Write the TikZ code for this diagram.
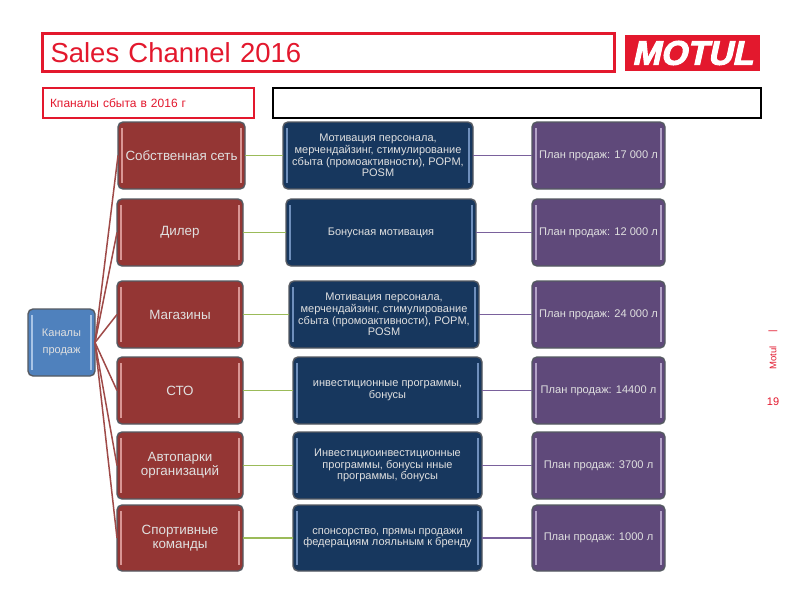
\documentclass[tikz,border=0pt]{standalone}
\usepackage{fontspec}
\setmainfont{Liberation Sans}
\newfontfamily\logofont[FakeSlant=0.22,FakeBold=3]{Liberation Sans Bold}
\definecolor{motred}{HTML}{E3182D}
\definecolor{redfill}{HTML}{943634}
\definecolor{redbar}{HTML}{D99694}
\definecolor{bluefill}{HTML}{17375E}
\definecolor{bluebar}{HTML}{6F8FBC}
\definecolor{purpfill}{HTML}{5F497A}
\definecolor{purpbar}{HTML}{B3A2C7}
\definecolor{srcfill}{HTML}{4F81BD}
\definecolor{srcbar}{HTML}{A8C4E6}
\definecolor{boxline}{HTML}{555A62}
\definecolor{greenline}{HTML}{9BBB59}
\definecolor{purpline}{HTML}{7A619C}
\tikzset{
  chanbox/.style={rectangle,rounded corners=5pt,draw=boxline,line width=1.4pt,inner sep=0pt,outer sep=0pt,
     align=center,text=white!88!black},
  redbox/.style={chanbox,fill=redfill,font=\fontsize{13.4}{14}\selectfont},
  bluebox/.style={chanbox,fill=bluefill,font=\fontsize{11}{11.6}\selectfont},
  purpbox/.style={chanbox,fill=purpfill,font=\fontsize{11.1}{12}\selectfont},
  srcbox/.style={chanbox,fill=srcfill,font=\fontsize{11}{16.5}\selectfont},
  redbar/.style={draw=redbar,line width=1.5pt},
  bluebar/.style={draw=bluebar,line width=1.5pt},
  purpbar/.style={draw=purpbar,line width=1.5pt},
  srcbar/.style={draw=srcbar,line width=1.8pt},
  framebox/.style={rectangle,fill=white,inner sep=0pt,outer sep=0pt},
  redlink/.style={draw=redfill!90!white,line width=1.5pt},
  greenlink/.style={draw=greenline,line width=1.7pt},
  purplink/.style={draw=purpline,line width=1.7pt},
}
\newcommand{\chbox}[7]{%
  \node[#6box,minimum width={(#4-#2)*1pt},minimum height={(#5-#3)*1pt}] (#1) at ({(#2+#4)/2},{(#3+#5)/2}) {#7};
  \draw[#6bar] ({#2+4},{#3+6}) -- ({#2+4},{#5-6});
  \draw[#6bar] ({#4-4},{#3+6}) -- ({#4-4},{#5-6});
}
\begin{document}
\begin{tikzpicture}[x=1pt,y=-1pt]
\useasboundingbox (0,0) rectangle (800,600);
\fill[white] (0,0) rectangle (800,600);
% header
\node[framebox,draw=motred,line width=2.2pt,minimum width=572pt,minimum height=38pt,anchor=west,
      text=motred,font=\fontsize{27.5}{30}\selectfont,text width=556pt] (title) at (42.5,52.5) {Sales Channel 2016};
\node[rectangle,fill=motred,inner sep=0pt,minimum width=135pt,minimum height=36pt,text=white,
      font=\logofont\fontsize{34}{36}\selectfont] (logo) at (692.5,53) {MOTUL};
\node[framebox,draw=motred,line width=2pt,minimum width=211pt,minimum height=30pt,anchor=west,
      text=motred,font=\fontsize{12}{14}\selectfont,text width=196pt] (sub) at (42.5,103) {Кпаналы сбыта в 2016 г};
\node[framebox,draw=black,line width=2pt,minimum width=488pt,minimum height=30pt,anchor=west] (blank) at (273,103) {};
% source
\chbox{src}{28}{309}{95}{376}{src}{Каналы\\продаж}
% red column
\chbox{r1}{118}{122}{245}{189}{red}{Собственная сеть}
\chbox{r2}{117}{199}{243}{266}{red}{Дилер}
\chbox{r3}{117}{281}{243}{348}{red}{Магазины}
\chbox{r4}{117}{357}{243}{424}{red}{СТО}
\chbox{r5}{117}{432}{243}{499}{red}{Автопарки\\организаций}
\chbox{r6}{117}{505}{243}{571}{red}{Спортивные\\команды}
% blue column
\chbox{b1}{283}{122}{473}{189}{blue}{Мотивация персонала,\\мерчендайзинг, стимулирование\\сбыта (промоактивности), POPM,\\POSM}
\chbox{b2}{286}{199}{476}{266}{blue}{Бонусная мотивация}
\chbox{b3}{289}{281}{479}{348}{blue}{Мотивация персонала,\\мерчендайзинг, стимулирование\\сбыта (промоактивности), POPM,\\POSM}
\chbox{b4}{293}{357}{482}{424}{blue}{инвестиционные программы,\\бонусы}
\chbox{b5}{293}{432}{482}{499}{blue}{Инвестициоинвестиционные\\программы, бонусы нные\\программы, бонусы}
\chbox{b6}{293}{505}{482}{571}{blue}{спонсорство, прямы продажи\\федерациям лояльным к бренду}
% purple column
\chbox{p1}{532}{122}{665}{189}{purp}{План продаж: 17 000 л}
\chbox{p2}{532}{199}{665}{266}{purp}{План продаж: 12 000 л}
\chbox{p3}{532}{281}{665}{348}{purp}{План продаж: 24 000 л}
\chbox{p4}{532}{357}{665}{424}{purp}{План продаж: 14400 л}
\chbox{p5}{532}{432}{665}{499}{purp}{План продаж: 3700 л}
\chbox{p6}{532}{505}{665}{571}{purp}{План продаж: 1000 л}
% connectors
\foreach \i in {1,...,6}{
  \draw[redlink] (src.east) -- (r\i.west);
  \draw[greenlink] (r\i.east) -- (b\i.west);
  \draw[purplink] (b\i.east) -- (p\i.west);
}
% side marks
\node[rotate=90,text=motred,font=\fontsize{9.5}{10}\selectfont,inner sep=0pt,anchor=center] (motul) at (773,358) {Motul};
\node[rotate=90,text=motred,font=\fontsize{9.5}{10}\selectfont,inner sep=0pt,anchor=center] (bar) at (773,331) {|};
\node[text=motred,font=\fontsize{11}{12}\selectfont,inner sep=0pt] (pageno) at (773,402) {19};
\end{tikzpicture}
\end{document}
